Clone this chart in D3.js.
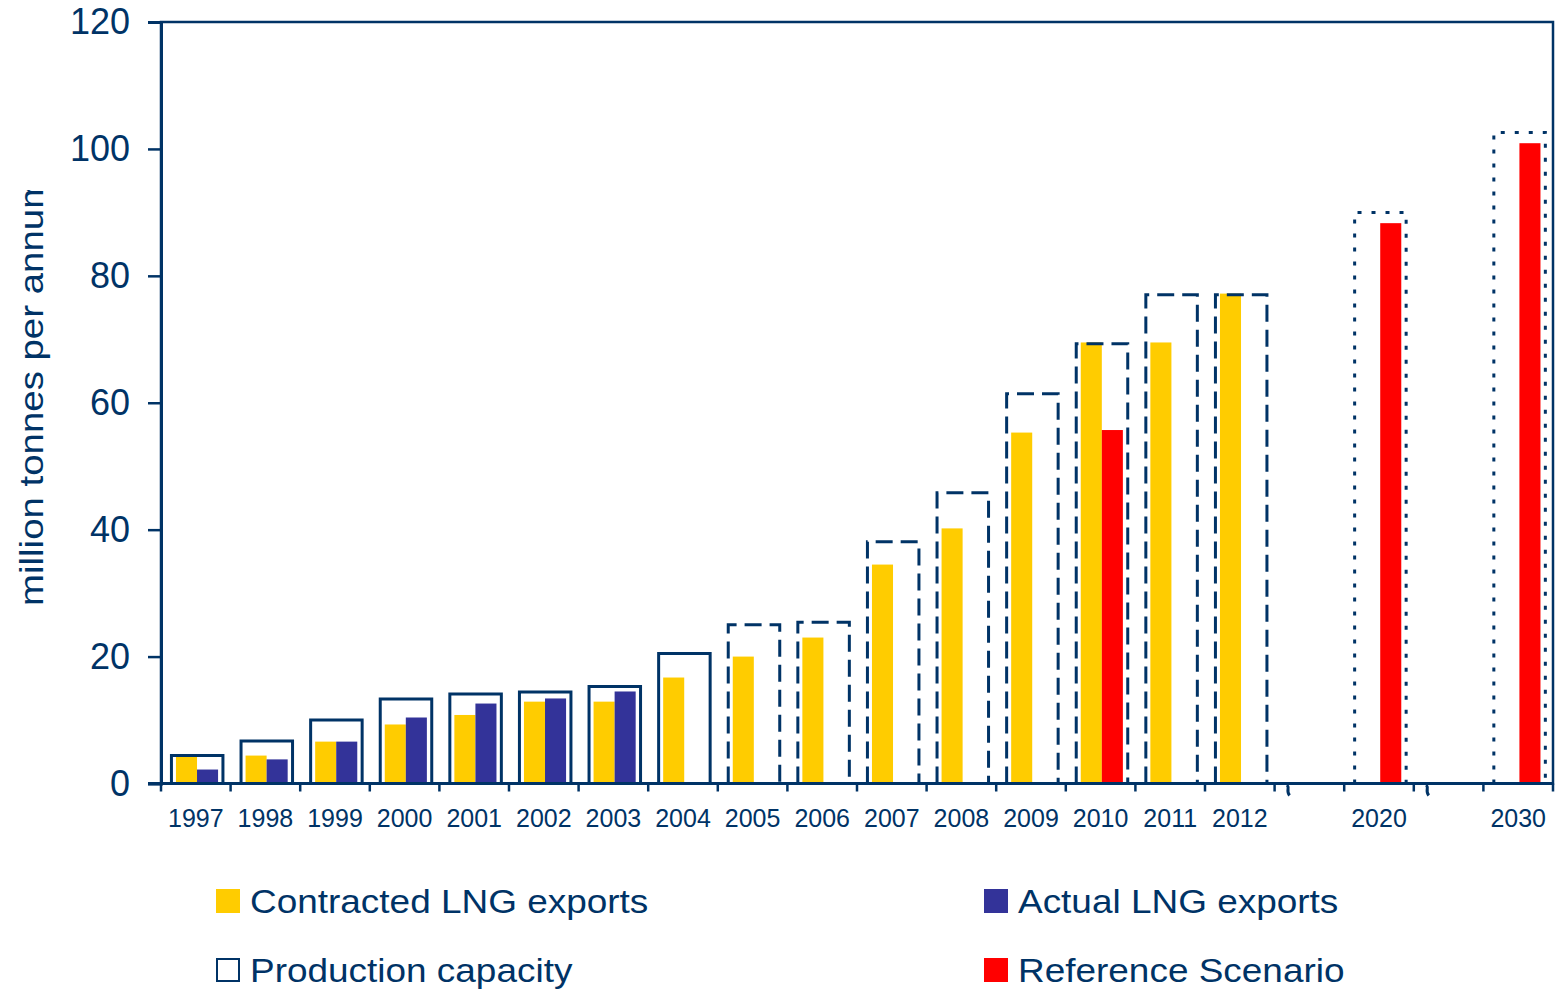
<!DOCTYPE html>
<html>
<head>
<meta charset="utf-8">
<script src="https://cdn.jsdelivr.net/npm/d3@7"></script>
<style>
  body { margin: 0; background: #fff; }
  svg { display: block; font-family: "Liberation Sans", Arial, sans-serif; }
</style>
</head>
<body>
<svg id="chart"></svg>
<script>
const years = ['1997', '1998', '1999', '2000', '2001', '2002', '2003', '2004',
  '2005', '2006', '2007', '2008', '2009', '2010', '2011', '2012', '2020', '2030'];
const capacity = [4.4, 6.7, 10.0, 13.3, 14.1, 14.4, 15.3, 20.5,
  25.0, 25.4, 38.1, 45.8, 61.4, 69.3, 77.0, 77.0, 90.0, 102.6];
const contracted = [4.3, 4.4, 6.6, 9.3, 10.8, 12.9, 12.9, 16.7,
  20.0, 23.0, 34.5, 40.2, 55.3, 69.5, 69.5, 77.2, null, null];
const actual = [2.2, 3.8, 6.6, 10.4, 12.6, 13.4, 14.5, null,
  null, null, null, null, null, null, null, null, null, null];
const reference = [null, null, null, null, null, null, null, null,
  null, null, null, null, null, 55.7, null, null, 88.3, 100.9];
const yTicks = [0, 20, 40, 60, 80, 100, 120];
const yTitle = 'million tonnes per annum';
const legendLabels = ['Contracted LNG exports', 'Actual LNG exports', 'Production capacity', 'Reference Scenario'];

const width = 1557;
const height = 991;
const margin = {top: 22, right: 4, bottom: 207, left: 161};
const navy = '#003366';
const colors = {contracted: '#ffcc00', actual: '#333399', reference: '#ff0000'};

const svg = d3.select('#chart')
    .attr('width', width)
    .attr('height', height);

// axis has a break before 2020 and before 2030, each taking one empty slot
const slots = [];
years.forEach(yr => {
  if (yr === '2020' || yr === '2030') slots.push('gap' + yr);
  slots.push(yr);
});

const x = d3.scaleBand()
    .domain(slots)
    .range([margin.left, width - margin.right]);
const bw = x.bandwidth();

const sub = d3.scaleBand()
    .domain(['left', 'right'])
    .range([bw * 0.215, bw * 0.82]);

const y = d3.scaleLinear()
    .domain([0, 120])
    .range([height - margin.bottom - 0.5, margin.top]);

const rows = years.map((yr, i) => ({
  year: yr,
  capacity: capacity[i],
  contracted: contracted[i],
  actual: actual[i],
  reference: reference[i]
}));

// bars
const bars = svg.append('g');
[['contracted', 'left'], ['actual', 'right'], ['reference', 'right']].forEach(([key, pos]) => {
  bars.selectAll(null)
    .data(rows.filter(d => d[key] != null))
    .enter().append('rect')
      .attr('x', d => x(d.year) + sub(pos))
      .attr('y', d => y(d[key]))
      .attr('width', sub.bandwidth())
      .attr('height', d => y(0) - y(d[key]))
      .attr('fill', colors[key]);
});

// capacity outlines: solid = existing, dashed = under construction, dotted = projection
const capDash = yr => +yr <= 2004 ? null : (+yr <= 2012 ? '17,8' : '4,10');
svg.append('g').selectAll('path')
  .data(rows)
  .enter().append('path')
    .attr('d', d => {
      const x0 = x(d.year) + bw * 0.15;
      const x1 = x0 + bw * 0.74;
      return `M${x0},${y(0)}V${y(d.capacity)}H${x1}V${y(0)}`;
    })
    .attr('fill', 'none')
    .attr('stroke', navy)
    .attr('stroke-width', 3)
    .attr('stroke-dasharray', d => capDash(d.year));

// frame
svg.append('rect')
    .attr('x', margin.left)
    .attr('y', margin.top)
    .attr('width', width - margin.right - margin.left)
    .attr('height', y(0) - margin.top)
    .attr('fill', 'none')
    .attr('stroke', navy)
    .attr('stroke-width', 2.5);

// y axis
const yAxis = svg.append('g')
    .attr('transform', `translate(${margin.left},0)`)
    .call(d3.axisLeft(y).tickValues(yTicks).tickSize(13).tickPadding(18));
yAxis.select('.domain').attr('stroke', navy).attr('stroke-width', 3);
yAxis.selectAll('.tick line').attr('stroke', navy).attr('stroke-width', 2.5);
yAxis.selectAll('.tick text')
    .attr('fill', navy)
    .attr('font-size', 36)
    .attr('font-family', '"Liberation Sans", Arial, sans-serif');

// x axis
const xAxis = svg.append('g')
    .attr('transform', `translate(0,${y(0)})`)
    .call(d3.axisBottom(x).tickSize(0).tickPadding(26)
      .tickFormat(d => d.startsWith('gap') ? '' : d));
xAxis.select('.domain').remove();
xAxis.selectAll('.tick text')
    .attr('fill', navy)
    .attr('font-size', 25)
    .attr('font-family', '"Liberation Sans", Arial, sans-serif');

svg.append('line')
    .attr('x1', margin.left - 13)
    .attr('x2', width - margin.right)
    .attr('y1', y(0))
    .attr('y2', y(0))
    .attr('stroke', navy)
    .attr('stroke-width', 3);

const bounds = slots.map(s => x(s)).concat([width - margin.right]);
svg.append('g').selectAll('line')
  .data(bounds)
  .enter().append('line')
    .attr('x1', d => d)
    .attr('x2', d => d)
    .attr('y1', y(0))
    .attr('y2', y(0) + 8)
    .attr('stroke', navy)
    .attr('stroke-width', 2.5);

// break marks on the axis
svg.append('g').selectAll('path')
  .data(slots.filter(s => s.startsWith('gap')))
  .enter().append('path')
    .attr('d', d => {
      const cx = x(d) + bw * 0.2;
      const cy = y(0);
      return `M${cx - 2},${cy + 2}C${cx + 2},${cy + 3} ${cx - 3},${cy + 7} ${cx + 1},${cy + 12}`;
    })
    .attr('fill', 'none')
    .attr('stroke', navy)
    .attr('stroke-width', 3);

// y title, clipped at the top like the original
svg.append('clipPath')
    .attr('id', 'title-clip')
  .append('rect')
    .attr('x', 0)
    .attr('y', 190)
    .attr('width', 120)
    .attr('height', 500);

svg.append('g')
    .attr('clip-path', 'url(#title-clip)')
  .append('g')
    .attr('transform', 'translate(43,606) rotate(-90) scale(1.13,1)')
  .append('text')
    .attr('fill', navy)
    .attr('font-size', 34)
    .text(yTitle);

// legend
const legendPos = [
  {x: 216, y: 913, key: 'contracted'},
  {x: 984, y: 913, key: 'actual'},
  {x: 216, y: 982, key: 'capacity'},
  {x: 984, y: 982, key: 'reference'}
];
const legend = svg.append('g').selectAll('g')
  .data(legendLabels)
  .enter().append('g')
    .attr('transform', (d, i) => `translate(${legendPos[i].x},${legendPos[i].y})`);

legend.append('rect')
    .attr('x', (d, i) => legendPos[i].key === 'capacity' ? 1 : 0)
    .attr('y', (d, i) => legendPos[i].key === 'capacity' ? -23 : -24)
    .attr('width', (d, i) => legendPos[i].key === 'capacity' ? 22 : 24)
    .attr('height', (d, i) => legendPos[i].key === 'capacity' ? 22 : 24)
    .attr('fill', (d, i) => colors[legendPos[i].key] || '#fff')
    .attr('stroke', (d, i) => legendPos[i].key === 'capacity' ? navy : 'none')
    .attr('stroke-width', 2);

legend.append('g')
    .attr('transform', 'translate(34,0) scale(1.12,1)')
  .append('text')
    .attr('fill', navy)
    .attr('font-size', 33)
    .text(d => d);
</script>
</body>
</html>
